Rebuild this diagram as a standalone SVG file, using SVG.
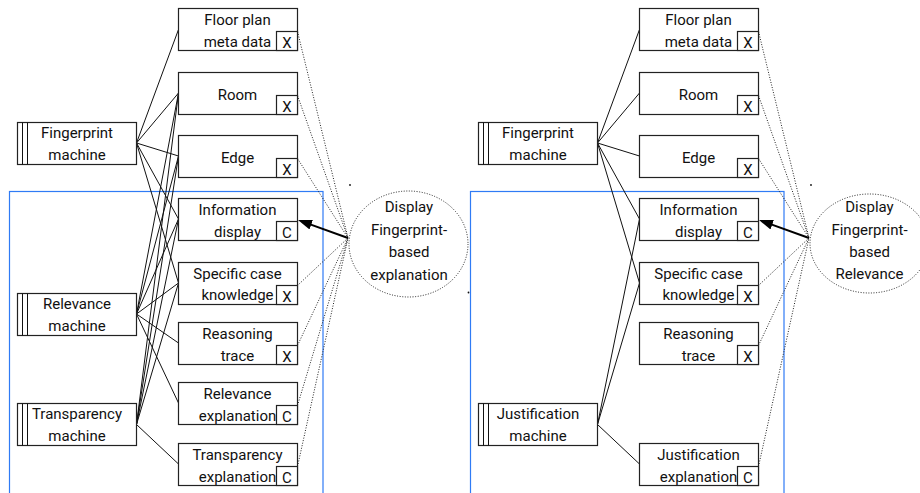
<svg xmlns="http://www.w3.org/2000/svg" width="920" height="493" viewBox="0 0 920 493">
<style>
.bx{fill:#fff;stroke:#222;stroke-width:1.2}
.sb{fill:#fff;stroke:#222;stroke-width:1.2}
.t{font-family:Roboto,"Liberation Sans",sans-serif;font-size:15px;fill:#111;text-anchor:middle}
.c{stroke:#111;stroke-width:1;fill:none}
.d{stroke:#222;stroke-width:1;stroke-dasharray:1 1.6;fill:none}
.el{fill:#fff;stroke:#222;stroke-width:1;stroke-dasharray:1 1.6}
.blue{fill:none;stroke:#2f7bf5;stroke-width:1.2}
.arr{stroke:#000;stroke-width:2;fill:none}
</style>
<defs>
<marker id="ah" viewBox="0 0 14 10" refX="4" refY="5" markerWidth="14" markerHeight="10" markerUnits="userSpaceOnUse" orient="auto">
<path d="M0,0 L14,5 L0,10 z" fill="#000"/>
</marker>
</defs>

<!-- frames -->
<rect class="blue" x="9.5" y="191.5" width="313.5" height="320"/>
<rect class="blue" x="470.5" y="191.5" width="313.5" height="320"/>

<!-- stray dots -->
<circle cx="350" cy="185" r="0.9" fill="#111"/>
<circle cx="468.5" cy="292.5" r="0.9" fill="#111"/>
<circle cx="811" cy="185" r="0.9" fill="#111"/>

<g id="connectors">
<!-- left panel: machines to items -->
<path class="c" d="M136.5,143 L178.5,29.5 M136.5,143 L178.5,93 M136.5,143 L178.5,156 M136.5,143 L178.5,219 M136.5,143 L178.5,283"/>
<path class="c" d="M136.5,314 L178.5,93 M136.5,314 L178.5,156 M136.5,314 L178.5,219 M136.5,314 L178.5,283 M136.5,314 L178.5,343 M136.5,314 L178.5,403"/>
<path class="c" d="M136.5,424.5 L178.5,93 M136.5,424.5 L178.5,156 M136.5,424.5 L178.5,219 M136.5,424.5 L178.5,283 M136.5,424.5 L178.5,464"/>
<!-- left panel: dotted to display -->
<path class="d" d="M297.5,31.5 L348,238 M297.5,95.5 L348,238 M297.5,158.5 L348,238 M297.5,285.5 L348,238 M297.5,345.5 L348,238 M297.5,405.5 L348,238 M297.5,466.5 L348,238"/>
<path class="arr" d="M348,238 L307.4,223.4" marker-end="url(#ah)"/>

<!-- right panel -->
<path class="c" d="M597.5,143 L639.5,29.5 M597.5,143 L639.5,93 M597.5,143 L639.5,156 M597.5,143 L639.5,219 M597.5,143 L639.5,283"/>
<path class="c" d="M597.5,424.5 L639.5,219 M597.5,424.5 L639.5,283 M597.5,424.5 L639.5,464"/>
<path class="d" d="M758.5,31.5 L809,238 M758.5,95.5 L809,238 M758.5,158.5 L809,238 M758.5,285.5 L809,238 M758.5,345.5 L809,238 M758.5,466.5 L809,238"/>
<path class="arr" d="M809,238 L768.4,223.4" marker-end="url(#ah)"/>
</g>

<!-- LEFT PANEL NODES -->
<g id="l-fingerprint">
<rect class="bx" x="17.5" y="122.5" width="119" height="42"/>
<path class="c" d="M22.5,122.5 V164.5 M27.5,122.5 V164.5" stroke="#222"/>
<text class="t" x="77" y="138">Fingerprint</text>
<text class="t" x="77" y="160">machine</text>
</g>
<g id="l-relevance">
<rect class="bx" x="17.5" y="293.5" width="119" height="42"/>
<path class="c" d="M22.5,293.5 V335.5 M27.5,293.5 V335.5" stroke="#222"/>
<text class="t" x="77" y="309">Relevance</text>
<text class="t" x="77" y="331">machine</text>
</g>
<g id="l-transparency">
<rect class="bx" x="17.5" y="403.5" width="119" height="42"/>
<path class="c" d="M22.5,403.5 V445.5 M27.5,403.5 V445.5" stroke="#222"/>
<text class="t" x="77" y="419">Transparency</text>
<text class="t" x="77" y="441">machine</text>
</g>

<g id="l-floorplan">
<rect class="bx" x="178.5" y="8.5" width="119" height="42"/>
<rect class="sb" x="276.5" y="31.5" width="21" height="19"/>
<text class="t" x="237.5" y="25">Floor plan</text>
<text class="t" x="237.5" y="47">meta data</text>
<text class="t" x="287" y="48">X</text>
</g>
<g id="l-room">
<rect class="bx" x="178.5" y="72.5" width="119" height="42"/>
<rect class="sb" x="276.5" y="95.5" width="21" height="19"/>
<text class="t" x="237.5" y="100">Room</text>
<text class="t" x="287" y="112">X</text>
</g>
<g id="l-edge">
<rect class="bx" x="178.5" y="135.5" width="119" height="42"/>
<rect class="sb" x="276.5" y="158.5" width="21" height="19"/>
<text class="t" x="237.5" y="163">Edge</text>
<text class="t" x="287" y="175">X</text>
</g>
<g id="l-info">
<rect class="bx" x="178.5" y="198.5" width="119" height="42"/>
<rect class="sb" x="276.5" y="221.5" width="21" height="19"/>
<text class="t" x="237.5" y="215">Information</text>
<text class="t" x="237.5" y="237">display</text>
<text class="t" x="287" y="238">C</text>
</g>
<g id="l-specific">
<rect class="bx" x="178.5" y="262.5" width="119" height="42"/>
<rect class="sb" x="276.5" y="285.5" width="21" height="19"/>
<text class="t" x="237.5" y="279">Specific case</text>
<text class="t" x="237.5" y="300">knowledge</text>
<text class="t" x="287" y="302">X</text>
</g>
<g id="l-reasoning">
<rect class="bx" x="178.5" y="322.5" width="119" height="42"/>
<rect class="sb" x="276.5" y="345.5" width="21" height="19"/>
<text class="t" x="237.5" y="339">Reasoning</text>
<text class="t" x="237.5" y="361">trace</text>
<text class="t" x="287" y="362">X</text>
</g>
<g id="l-relexp">
<rect class="bx" x="178.5" y="382.5" width="119" height="42"/>
<rect class="sb" x="276.5" y="405.5" width="21" height="19"/>
<text class="t" x="237.5" y="399">Relevance</text>
<text class="t" x="237.5" y="421">explanation</text>
<text class="t" x="287" y="422">C</text>
</g>
<g id="l-traexp">
<rect class="bx" x="178.5" y="443.5" width="119" height="42"/>
<rect class="sb" x="276.5" y="466.5" width="21" height="19"/>
<text class="t" x="237.5" y="460">Transparency</text>
<text class="t" x="237.5" y="482">explanation</text>
<text class="t" x="287" y="483">C</text>
</g>
<g id="l-display">
<ellipse class="el" cx="408.5" cy="244" rx="59.5" ry="53"/>
<text class="t" x="409" y="212">Display</text>
<text class="t" x="409" y="234.5">Fingerprint-</text>
<text class="t" x="409" y="257">based</text>
<text class="t" x="409" y="279.5">explanation</text>
</g>

<!-- RIGHT PANEL NODES -->
<g id="r-fingerprint">
<rect class="bx" x="478.5" y="122.5" width="119" height="42"/>
<path class="c" d="M483.5,122.5 V164.5 M488.5,122.5 V164.5" stroke="#222"/>
<text class="t" x="538" y="138">Fingerprint</text>
<text class="t" x="538" y="160">machine</text>
</g>
<g id="r-justification">
<rect class="bx" x="478.5" y="403.5" width="119" height="42"/>
<path class="c" d="M483.5,403.5 V445.5 M488.5,403.5 V445.5" stroke="#222"/>
<text class="t" x="538" y="419">Justification</text>
<text class="t" x="538" y="441">machine</text>
</g>
<g id="r-floorplan">
<rect class="bx" x="639.5" y="8.5" width="119" height="42"/>
<rect class="sb" x="737.5" y="31.5" width="21" height="19"/>
<text class="t" x="698.5" y="25">Floor plan</text>
<text class="t" x="698.5" y="47">meta data</text>
<text class="t" x="748" y="48">X</text>
</g>
<g id="r-room">
<rect class="bx" x="639.5" y="72.5" width="119" height="42"/>
<rect class="sb" x="737.5" y="95.5" width="21" height="19"/>
<text class="t" x="698.5" y="100">Room</text>
<text class="t" x="748" y="112">X</text>
</g>
<g id="r-edge">
<rect class="bx" x="639.5" y="135.5" width="119" height="42"/>
<rect class="sb" x="737.5" y="158.5" width="21" height="19"/>
<text class="t" x="698.5" y="163">Edge</text>
<text class="t" x="748" y="175">X</text>
</g>
<g id="r-info">
<rect class="bx" x="639.5" y="198.5" width="119" height="42"/>
<rect class="sb" x="737.5" y="221.5" width="21" height="19"/>
<text class="t" x="698.5" y="215">Information</text>
<text class="t" x="698.5" y="237">display</text>
<text class="t" x="748" y="238">C</text>
</g>
<g id="r-specific">
<rect class="bx" x="639.5" y="262.5" width="119" height="42"/>
<rect class="sb" x="737.5" y="285.5" width="21" height="19"/>
<text class="t" x="698.5" y="279">Specific case</text>
<text class="t" x="698.5" y="300">knowledge</text>
<text class="t" x="748" y="302">X</text>
</g>
<g id="r-reasoning">
<rect class="bx" x="639.5" y="322.5" width="119" height="42"/>
<rect class="sb" x="737.5" y="345.5" width="21" height="19"/>
<text class="t" x="698.5" y="339">Reasoning</text>
<text class="t" x="698.5" y="361">trace</text>
<text class="t" x="748" y="362">X</text>
</g>
<g id="r-jusexp">
<rect class="bx" x="639.5" y="443.5" width="119" height="42"/>
<rect class="sb" x="737.5" y="466.5" width="21" height="19"/>
<text class="t" x="698.5" y="460">Justification</text>
<text class="t" x="698.5" y="482">explanation</text>
<text class="t" x="748" y="483">C</text>
</g>
<g id="r-display">
<ellipse class="el" cx="869.5" cy="243.5" rx="59.5" ry="49.5"/>
<text class="t" x="869.5" y="212">Display</text>
<text class="t" x="869.5" y="234.5">Fingerprint-</text>
<text class="t" x="869.5" y="257">based</text>
<text class="t" x="869.5" y="279">Relevance</text>
</g>
</svg>
